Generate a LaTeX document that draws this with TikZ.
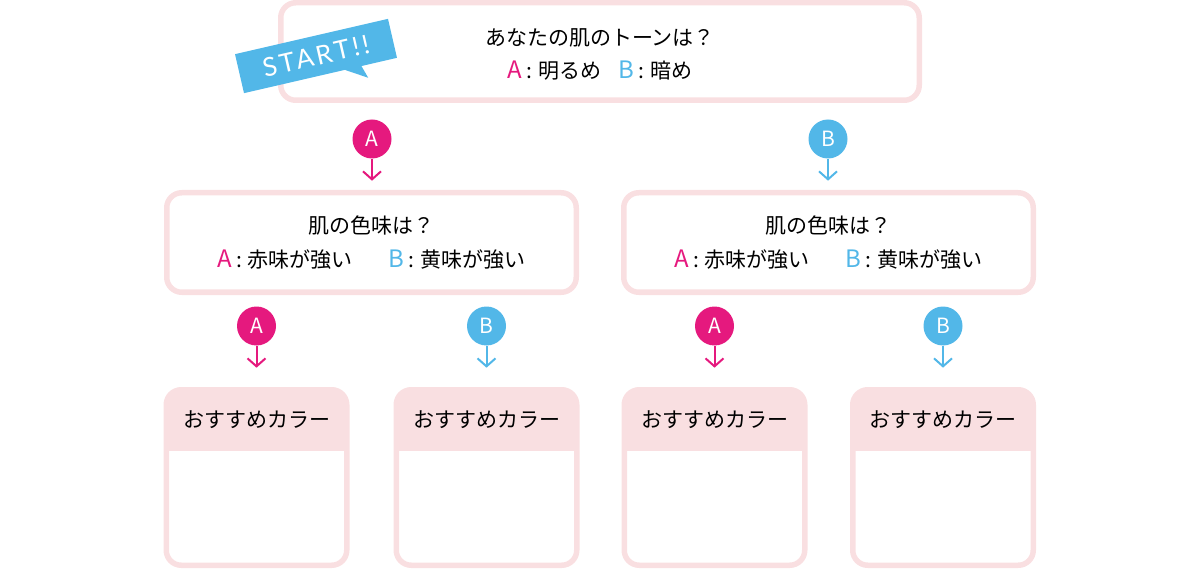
\documentclass[tikz,border=0pt]{standalone}
\usepackage{fontspec}
\setmainfont{Noto Sans CJK JP}
\newfontfamily\tagfont[LetterSpace=12]{Lato}
\usetikzlibrary{positioning,arrows.meta}
\definecolor{skinline}{RGB}{249,223,225}
\definecolor{answerA}{RGB}{229,25,126}
\definecolor{answerB}{RGB}{82,183,232}
\newcommand{\ansA}{{\fontsize{24}{24}\selectfont\textcolor{answerA}{A}}\hspace{4pt}:\hspace{6pt}}
\newcommand{\ansB}{{\fontsize{24}{24}\selectfont\textcolor{answerB}{B}}\hspace{4pt}:\hspace{6pt}}

\begin{document}
\begin{tikzpicture}[x=1pt,y=-1pt,
  question/.style={draw=skinline,line width=5.5pt,rounded corners=15pt,align=center,inner sep=0pt,font=\fontsize{21}{33.5}\selectfont},
  qtext/.style={align=center,inner sep=0pt,font=\fontsize{21}{33.5}\selectfont},
  colorbox/.style={draw=skinline,line width=5.5pt,rounded corners=15pt,minimum width=180.5pt,minimum height=175.5pt,
    path picture={\fill[skinline,sharp corners] (path picture bounding box.north west) rectangle ([yshift=-61.25pt]path picture bounding box.north east);}},
  title/.style={font=\fontsize{21}{21}\selectfont},
  badge/.style={circle,fill=#1,text=white,minimum size=39pt,inner sep=0pt,font=\fontsize{21}{21}\selectfont},
  ar/.style={-{Straight Barb[length=8pt,width=18pt]},line width=2pt}]
  \useasboundingbox (0,0) rectangle (1200,572);

  % questions
  \node[question,minimum width=638.5pt,minimum height=97.5pt] (tone) at (600,51.5) {};
  \node[qtext] (tonetxt) at (600,54.5) {あなたの肌のトーンは？\\ \ansA 明るめ\hspace{17pt}\ansB 暗め};
  \node[question,minimum width=409.5pt,minimum height=99.5pt] (hueA) at (371.5,242.5) {肌の色味は？\\ \ansA 赤味が強い\hspace{36pt}\ansB 黄味が強い};
  \node[question,minimum width=409.5pt,minimum height=99.5pt] (hueB) at (828.5,242.5) {肌の色味は？\\ \ansA 赤味が強い\hspace{36pt}\ansB 黄味が強い};

  % start tag
  \begin{scope}[shift={(316,56)},rotate=13]
    \fill[answerB] (-78.5,-20) -- (78.5,-20) -- (78.5,20) -- (42,20) -- (46,33) -- (25,20) -- (-78.5,20) -- cycle;
    \node[transform shape,text=white,font=\tagfont\fontsize{26}{26}\selectfont] (start) at (0,0) {START!!};
  \end{scope}

  % answers
  \node[badge=answerA] (tA) at (372,139) {A};
  \node[badge=answerB] (tB) at (828,139) {B};
  \node[badge=answerA] (aA) at (256.5,326) {A};
  \node[badge=answerB] (aB) at (486.5,326) {B};
  \node[badge=answerA] (bA) at (714.5,326) {A};
  \node[badge=answerB] (bB) at (943,326) {B};
  \coordinate[below=22pt of tA] (tAend);
  \coordinate[below=22pt of tB] (tBend);
  \coordinate[below=22pt of aA] (aAend);
  \coordinate[below=22pt of aB] (aBend);
  \coordinate[below=22pt of bA] (bAend);
  \coordinate[below=22pt of bB] (bBend);
  \draw[ar,answerA] (tA) -- (tAend);
  \draw[ar,answerB] (tB) -- (tBend);
  \draw[ar,answerA] (aA) -- (aAend);
  \draw[ar,answerB] (aB) -- (aBend);
  \draw[ar,answerA] (bA) -- (bAend);
  \draw[ar,answerB] (bB) -- (bBend);

  % results
  \node[colorbox] (resAA) at (256.5,477.5) {};
  \node[colorbox] (resAB) at (486.5,477.5) {};
  \node[colorbox] (resBA) at (714.5,477.5) {};
  \node[colorbox] (resBB) at (943,477.5) {};
  \node[title] (ttlAA) at (256.5,420) {おすすめカラー};
  \node[title] (ttlAB) at (486.5,420) {おすすめカラー};
  \node[title] (ttlBA) at (714.5,420) {おすすめカラー};
  \node[title] (ttlBB) at (943,420) {おすすめカラー};
\end{tikzpicture}
\end{document}
